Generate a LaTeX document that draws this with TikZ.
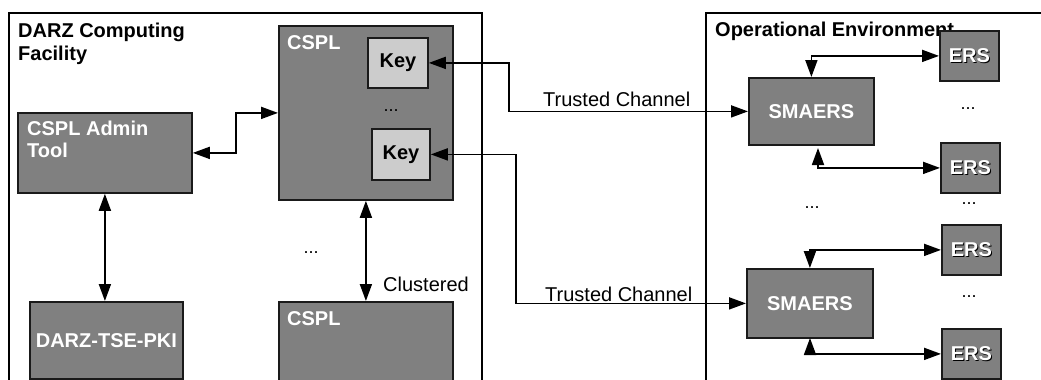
\documentclass[tikz,border=0pt]{standalone}
\usepackage{fontspec}
\setmainfont{Liberation Sans}
\usetikzlibrary{arrows.meta}
\definecolor{boxgray}{HTML}{808080}
\definecolor{keygray}{HTML}{CCCCCC}
\definecolor{edgecol}{HTML}{1A1A1A}
\begin{document}
\begin{tikzpicture}[x=1pt,y=-1pt,
  every node/.style={font=\fontsize{20}{23}\selectfont},
  gbox/.style={draw=edgecol, line width=1.8pt, fill=boxgray, anchor=north west, inner sep=0pt, text=white, font=\fontsize{20}{23}\selectfont\bfseries},
  keybox/.style={draw=edgecol, line width=1.8pt, fill=keygray, anchor=north west, inner sep=0pt, font=\fontsize{20}{23}\selectfont\bfseries},
  ersbox/.style={gbox, minimum width=59, minimum height=50},
  erstext/.style={inner sep=0pt, text=white, font=\fontsize{20}{23}\selectfont\bfseries},
  ershadow/.style={inner sep=0pt, text=black, font=\fontsize{20}{23}\selectfont\bfseries},
  cont/.style={draw=black, line width=1.5pt},
  bi/.style={line width=1.8pt, draw=black, {Triangle[length=17pt,width=12pt]}-{Triangle[length=17pt,width=12pt]}},
  txt/.style={anchor=base west, inner sep=0pt},
  btxt/.style={txt, font=\fontsize{20}{23}\selectfont\bfseries},
  wtxt/.style={btxt, text=white},
  dots/.style={anchor=base, inner sep=0pt, font=\fontsize{18}{20}\selectfont}
]
\useasboundingbox (0,0) rectangle (1041,380);
\clip (0,0) rectangle (1041,380);

% containers
\draw[cont] (9,395) -- (9,13) -- (482,13) -- (482,395);
\draw[cont] (706,395) -- (706,13) -- (1050,13);

\node[btxt] (darz1) at (18,37) {DARZ Computing};
\node[btxt] (darz2) at (18,60) {Facility};
\node[btxt] (opt) at (715,36) {Operational Environment};

% left side boxes
\node[gbox, minimum width=174, minimum height=80] (admin) at (17,112) {};
\node[wtxt] (admint1) at (27,135) {CSPL Admin};
\node[wtxt] (admint2) at (27,157) {Tool};

\node[gbox, minimum width=174, minimum height=174] (cspl1) at (278,25) {};
\node[wtxt] (cspl1t) at (287,49) {CSPL};
\node[gbox, minimum width=174, minimum height=100] (cspl2) at (278,301) {};
\node[wtxt] (cspl2t) at (287,325) {CSPL};

\node[gbox, minimum width=153, minimum height=77] (pki) at (29,301) {DARZ-TSE-PKI};

\node[keybox, minimum width=60, minimum height=50] (key1) at (367,37) {Key};
\node[keybox, minimum width=58, minimum height=51] (key2) at (371,128) {Key};
\node[dots] (kdots) at (391,111) {...};
\node[dots] (cdots) at (311,253) {...};

% right side boxes
\node[gbox, minimum width=125, minimum height=67] (smaers1) at (748,77) {SMAERS};
\node[gbox, minimum width=126, minimum height=69] (smaers2) at (746,268) {SMAERS};

\node[ersbox] (ers1) at (939,30) {};
\node[ershadow] (ers1s) at ([xshift=1pt,yshift=-1pt]ers1.center) {ERS};
\node[erstext] (ers1t) at (ers1.center) {ERS};
\node[ersbox] (ers2) at (940,142) {};
\node[ershadow] (ers2s) at ([xshift=1pt,yshift=-1pt]ers2.center) {ERS};
\node[erstext] (ers2t) at (ers2.center) {ERS};
\node[ersbox] (ers3) at (941,224) {};
\node[ershadow] (ers3s) at ([xshift=1pt,yshift=-1pt]ers3.center) {ERS};
\node[erstext] (ers3t) at (ers3.center) {ERS};
\node[ersbox] (ers4) at (941,328) {};
\node[ershadow] (ers4s) at ([xshift=1pt,yshift=-1pt]ers4.center) {ERS};
\node[erstext] (ers4t) at (ers4.center) {ERS};

\node[dots] (edots1) at (968,109) {...};
\node[dots] (sdots) at (812,208) {...};
\node[dots] (edots2) at (969,204) {...};
\node[dots] (edots3) at (969,297) {...};

% labels
\node[txt] (tc1) at (543,106) {Trusted Channel};
\node[txt] (tc2) at (545,301) {Trusted Channel};
\node[txt] (cl) at (383,291) {Clustered};

% connectors
\draw[bi] (admin.east) -- ++(43,0) |- (cspl1.west);
\draw[bi] (admin.south) -- (admin.south |- pki.north);
\draw[bi] (cspl1.south) -- (cspl2.north);
\draw[bi] (key1.east) -- ++(80,0) |- (smaers1.west);
\draw[bi] (key2.east) -- ++(85,0) |- (smaers2.west);
\draw[bi] (smaers1.north) |- (ers1.west);
\coordinate (s1b) at (818,148);
\draw[bi] (s1b) |- (ers2.west);
\draw[bi] (smaers2.north) |- (ers3.west);
\coordinate (s2b) at (810,338);
\draw[bi] (s2b) |- (ers4.west);
\end{tikzpicture}
\end{document}
